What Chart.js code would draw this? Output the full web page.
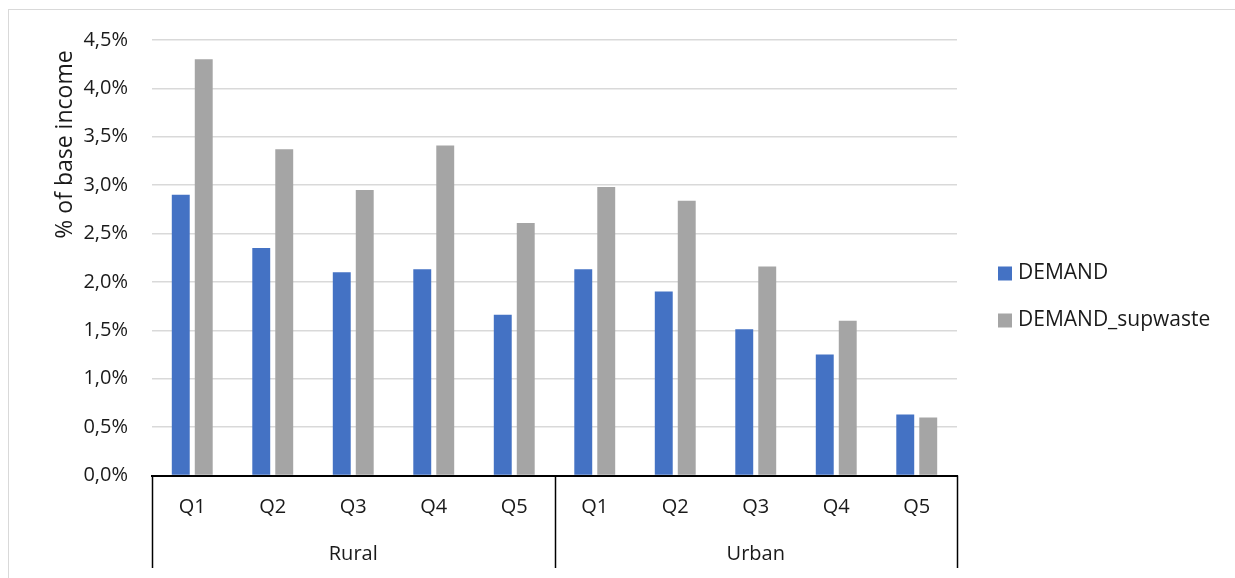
<!DOCTYPE html>
<html>
<head>
<meta charset="utf-8">
<script src="https://cdn.jsdelivr.net/npm/chart.js@4/dist/chart.umd.min.js"></script>
<style>
  html, body { margin: 0; padding: 0; background: #fff; }
  #wrap { position: relative; width: 1235px; height: 578px; overflow: hidden; }
  #frame { position: absolute; left: 8px; top: 9px; width: 1300px; height: 700px;
           border-top: 1.5px solid #d9d9d9; border-left: 1.5px solid #d9d9d9; }
  #c { position: absolute; left: 0; top: 0; }
</style>
</head>
<body>
<div id="wrap">
  <div id="frame"></div>
  <canvas id="c" width="1235" height="578"></canvas>
</div>
<script>
// Household groups and income quintiles
const groups = ['Rural', 'Urban'];
const quintiles = ['Q1', 'Q2', 'Q3', 'Q4', 'Q5'];

// Cost as % of base income, in the order Rural Q1..Q5, Urban Q1..Q5
const demand = [2.90, 2.35, 2.10, 2.13, 1.66, 2.13, 1.90, 1.51, 1.25, 0.63];
const demandSupwaste = [4.30, 3.37, 2.95, 3.41, 2.61, 2.98, 2.84, 2.16, 1.60, 0.60];

// Y axis ticks
const yTicks = [0, 0.5, 1.0, 1.5, 2.0, 2.5, 3.0, 3.5, 4.0, 4.5];
const yTitle = '% of base income';

const labels = groups.flatMap(() => quintiles);
const FONT = '"Open Sans", "DejaVu Sans", sans-serif';
const TEXT = '#1a1a1a';

// Draws the second row of category labels (groups) with separators
const groupAxis = {
  id: 'groupAxis',
  afterDraw(chart) {
    const x = chart.scales.x;
    const ctx = chart.ctx;
    const top = chart.chartArea.bottom;
    const bottom = 568;
    const per = quintiles.length;
    const edges = [x.left];
    for (let g = 1; g < groups.length; g++) {
      edges.push((x.getPixelForValue(g * per - 1) + x.getPixelForValue(g * per)) / 2);
    }
    edges.push(x.right);
    ctx.save();
    ctx.strokeStyle = '#000';
    ctx.lineWidth = 1.5;
    edges.forEach(px => {
      ctx.beginPath();
      ctx.moveTo(Math.round(px) + 0.5, top);
      ctx.lineTo(Math.round(px) + 0.5, bottom);
      ctx.stroke();
    });
    ctx.fillStyle = TEXT;
    ctx.font = '20px ' + FONT;
    ctx.textAlign = 'center';
    ctx.textBaseline = 'middle';
    groups.forEach((g, i) => {
      ctx.fillText(g, (edges[i] + edges[i + 1]) / 2, 554);
    });
    ctx.restore();
  }
};

// Vertical axis title, set toward the upper part of the axis
const axisTitle = {
  id: 'axisTitle',
  afterDraw(chart) {
    const ctx = chart.ctx;
    const area = chart.chartArea;
    ctx.save();
    ctx.translate(65, area.top + (area.bottom - area.top) * 0.24);
    ctx.rotate(-Math.PI / 2);
    ctx.font = '23px ' + FONT;
    ctx.fillStyle = TEXT;
    ctx.textAlign = 'center';
    ctx.textBaseline = 'middle';
    ctx.fillText(yTitle, 0, 0);
    ctx.restore();
  }
};

// Legend drawn to the right of the plot, one row per dataset
const sideLegend = {
  id: 'sideLegend',
  afterDraw(chart) {
    const ctx = chart.ctx;
    const x0 = chart.chartArea.right + 41;
    const rows = [273, 320];
    ctx.save();
    ctx.font = '21px ' + FONT;
    ctx.textBaseline = 'middle';
    ctx.textAlign = 'left';
    chart.data.datasets.forEach((ds, i) => {
      const y = rows[i];
      ctx.fillStyle = ds.backgroundColor;
      ctx.fillRect(x0, y - 6.5, 14, 14);
      ctx.fillStyle = TEXT;
      ctx.fillText(ds.label, x0 + 20, y);
    });
    ctx.restore();
  }
};

new Chart(document.getElementById('c'), {
  type: 'bar',
  data: {
    labels: labels,
    datasets: [
      { label: 'DEMAND', data: demand, backgroundColor: '#4472C4' },
      { label: 'DEMAND_supwaste', data: demandSupwaste, backgroundColor: '#A5A5A5' }
    ]
  },
  options: {
    responsive: false,
    animation: false,
    devicePixelRatio: 1,
    categoryPercentage: 0.571,
    barPercentage: 0.78,
    layout: { padding: { left: 44, top: 40, right: 278, bottom: 0 } },
    plugins: {
      tooltip: { enabled: false },
      legend: { display: false }
    },
    scales: {
      x: {
        grid: { display: false, drawTicks: false },
        border: { color: '#000', width: 2 },
        ticks: { color: TEXT, font: { family: FONT, size: 20 }, padding: 20 },
        afterFit(s) { s.height = 102.5; }
      },
      y: {
        min: 0,
        max: 4.5,
        afterBuildTicks(s) { s.ticks = yTicks.map(v => ({ value: v })); },
        grid: { color: '#d9d9d9', lineWidth: 1.5, drawTicks: false },
        border: { display: false },
        ticks: {
          color: TEXT,
          font: { family: FONT, size: 20 },
          padding: 24,
          callback: v => v.toFixed(1).replace('.', ',') + '%'
        },
        afterFit(s) { s.width = 108; }
      }
    }
  },
  plugins: [groupAxis, axisTitle, sideLegend]
});
</script>
</body>
</html>
